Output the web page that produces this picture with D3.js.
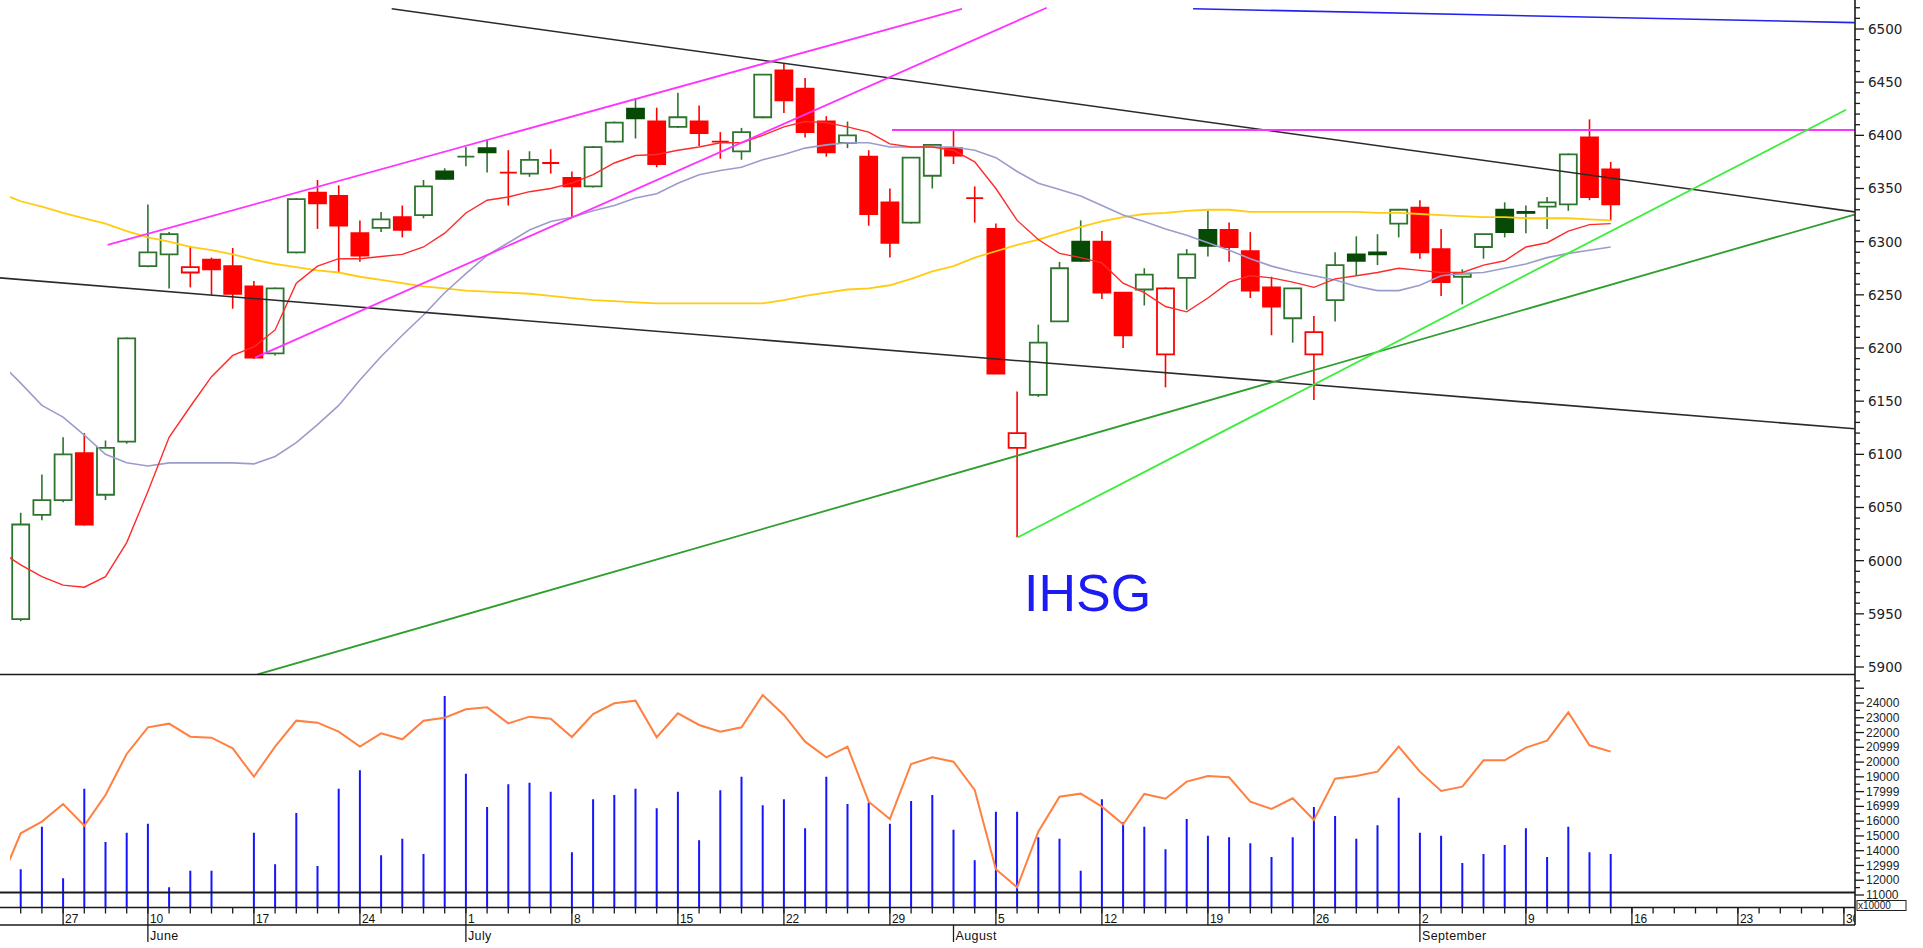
<!DOCTYPE html>
<html><head><meta charset="utf-8">
<script src="https://cdn.jsdelivr.net/npm/d3@7"></script>
<style>html,body{margin:0;padding:0;background:#fff;overflow:hidden}</style>
</head><body>
<svg id="c" width="1923" height="948"></svg>
<script>
// ---------------- DATA ----------------
// trading day index 0 = 23 May 2019 ... 75 = 13 Sep 2019 ; axis runs to 30 Sep (86)
const opens  = [5945,6043,6057,6101,6062,6112,6277,6288,6271,6283,6277,6258,6195,6290,6346,6343,6308,6313,6323,6325,6366,6380,6388,6365,6364,6374,6360,6352,6394,6425,6413,6408,6413,6394,6385,6417,6461,6444,6413,6393,6380,6337,6318,6362,6388,6341,6312,6106,6156,6225,6300,6300,6252,6255,6194,6266,6311,6311,6291,6257,6228,6194,6245,6288,6290,6317,6332,6293,6267,6295,6330,6328,6333,6335,6398,6368];
const highs  = [6045,6081,6116,6120,6113,6210,6335,6309,6296,6285,6294,6263,6257,6341,6358,6353,6320,6328,6334,6358,6369,6389,6396,6386,6385,6387,6366,6390,6413,6435,6426,6440,6428,6403,6407,6457,6468,6454,6418,6413,6386,6350,6379,6391,6405,6352,6317,6159,6222,6281,6320,6310,6252,6275,6257,6293,6329,6318,6309,6267,6256,6230,6290,6305,6307,6330,6339,6312,6274,6307,6337,6334,6342,6383,6415,6375];
const lows   = [5943,6038,6055,6033,6057,6110,6276,6256,6257,6250,6237,6190,6193,6289,6312,6271,6281,6309,6304,6322,6358,6371,6365,6334,6361,6364,6323,6351,6393,6397,6370,6407,6390,6378,6377,6416,6421,6398,6380,6388,6315,6285,6317,6350,6373,6318,6176,6022,6154,6225,6281,6246,6200,6240,6163,6236,6286,6281,6247,6212,6205,6151,6225,6268,6278,6304,6284,6249,6241,6284,6304,6308,6312,6329,6339,6320];
const closes = [6034,6057,6100,6034,6106,6209,6290,6307,6276,6274,6251,6191,6256,6340,6336,6315,6287,6321,6311,6352,6359,6380,6384,6365,6377,6374,6352,6389,6412,6416,6373,6417,6402,6394,6403,6457,6433,6403,6384,6400,6326,6299,6379,6391,6381,6341,6176,6120,6205,6275,6282,6252,6212,6269,6256,6288,6296,6295,6254,6239,6256,6215,6278,6282,6288,6330,6290,6262,6270,6307,6309,6327,6337,6382,6342,6335];
// volume (units of 1), day 10 not visible
const volume = [12741,15627,12130,18200,14590,15222,15830,11520,12650,12650,null,15220,13078,16553,12965,18200,19442,13687,14815,13777,24474,19216,16959,18494,18607,17998,13889,17478,17772,18200,16869,17998,14702,18088,19013,17072,17478,15515,19013,17162,17252,15830,17365,17772,15425,13349,16643,16643,14906,14815,12650,17478,15944,15627,14093,16147,15018,14906,14500,13574,14906,16959,16350,14815,15719,17591,15222,15018,13168,13777,14387,15515,13574,15627,13889,13777];
// lines below start at day -1 (partly off the left edge)
const volumeAvg = [11750,15177,15967,17162,15696,17772,20547,22352,22601,21720,21653,20931,19013,21044,22804,22669,22059,21044,21946,21540,22804,23007,23571,23707,22623,23075,22940,21698,23255,23977,24158,21680,23300,22511,22059,22352,24542,23188,21383,20322,21044,17320,16147,19870,20322,20029,18110,12741,11520,15290,17659,17862,16982,15786,17840,17523,18675,19058,18968,17320,16824,17545,16079,18878,19058,19352,21044,19352,18042,18336,20119,20119,20976,21450,23368,21134,20705];
const ma10 = [6009,5996,5985,5977,5975,5985,6017,6065,6116,6145,6173,6193,6201,6217,6261,6277,6284,6284,6286,6288,6295,6308,6327,6339,6342,6347,6350,6355,6363,6374,6381,6382,6386,6389,6393,6393,6400,6408,6413,6412,6408,6403,6392,6389,6389,6386,6375,6350,6320,6302,6289,6285,6280,6261,6252,6239,6234,6247,6262,6268,6266,6262,6257,6265,6268,6271,6275,6273,6271,6271,6278,6282,6295,6299,6310,6316,6317];
const ma20 = [6187,6167,6146,6135,6118,6100,6092,6089,6092,6092,6092,6092,6091,6098,6111,6128,6146,6170,6192,6212,6231,6252,6270,6287,6299,6311,6319,6323,6329,6334,6341,6345,6355,6363,6367,6370,6377,6382,6388,6391,6393,6393,6389,6389,6389,6389,6386,6379,6366,6355,6349,6343,6334,6325,6319,6312,6306,6299,6292,6284,6277,6272,6268,6264,6258,6254,6254,6259,6268,6270,6271,6275,6279,6285,6289,6292,6295];
const ma50 = [6346,6338,6333,6327,6322,6317,6310,6304,6300,6295,6292,6288,6283,6279,6276,6273,6271,6267,6264,6261,6258,6256,6254,6253,6252,6251,6249,6247,6245,6244,6243,6242,6242,6242,6242,6242,6242,6245,6249,6252,6255,6256,6259,6265,6272,6277,6285,6291,6297,6302,6308,6314,6319,6323,6326,6327,6329,6330,6330,6328,6328,6328,6328,6328,6328,6327,6327,6326,6325,6324,6323,6323,6322,6322,6322,6321,6320];
// drawn trend lines: [[dayIndex, price], [dayIndex, price]]
const trendBlackUpper = [[17.5,6519],[86.5,6328]];
const trendBlackLower = [[-1,6266],[86.5,6124]];
const trendMagentaUp  = [[4.1,6297],[44.4,6519]];
const trendMagentaLow = [[11.05,6191],[48.4,6520]];
const trendMagentaFlat= [[41.1,6405],[86.5,6405]];
const trendBlueTop    = [[55.3,6519],[86.5,6506]];
const trendGreenLong  = [[11.17,5893],[86.5,6325.5]];
const trendLime       = [[47.04,6022],[86.1,6424]];
// axis labels
const priceTicks = [5900,5950,6000,6050,6100,6150,6200,6250,6300,6350,6400,6450,6500];
const volTickValues = [24000,23000,22000,21000,20000,19000,18000,17000,16000,15000,14000,13000,12000,11000];
const volTickLabels = ["24000","23000","22000","20999","20000","19000","17999","16999","16000","15000","14000","12999","12000","11000"];
const dayLabels = [[2,"27"],[6,"10"],[11,"17"],[16,"24"],[21,"1"],[26,"8"],[31,"15"],[36,"22"],[41,"29"],[46,"5"],[51,"12"],[56,"19"],[61,"26"],[66,"2"],[71,"9"],[76,"16"],[81,"23"],[86,"30"]];
const monthLabels = [[6,"June"],[21,"July"],[44,"August"],[66,"September"]];
const lastAxisDay = 86;
const title = "IHSG";
const volUnit = "x10000";

// ---------------- LAYOUT ----------------
const svg = d3.select("#c");
const axisX = 1855, priceBottom = 674.5, volBottom = 892.5, dateTop = 907.5, dateMid = 925;
const x  = d3.scaleLinear().domain([0, 86]).range([20.7, 1843.9]);
const yP = d3.scaleLinear().domain([5900, 6500]).range([667, 29]);
const yV = d3.scaleLinear().domain([11000, 24000]).range([895, 703]);

svg.append("rect").attr("width",1923).attr("height",948).attr("fill","#fff");
const defs = svg.append("defs");
defs.append("clipPath").attr("id","cpP").append("rect").attr("x",10).attr("y",0).attr("width",axisX-10).attr("height",priceBottom);
defs.append("clipPath").attr("id","cpT").append("rect").attr("x",0).attr("y",0).attr("width",axisX).attr("height",priceBottom);
defs.append("clipPath").attr("id","cpV").append("rect").attr("x",10).attr("y",priceBottom).attr("width",axisX-10).attr("height",dateTop-priceBottom);
defs.append("clipPath").attr("id","cpD").append("rect").attr("x",0).attr("y",dateTop).attr("width",axisX).attr("height",948-dateTop);

// ---------------- VOLUME ----------------
const gV = svg.append("g").attr("clip-path","url(#cpV)");
gV.selectAll("line.vb").data(volume.map((v,i)=>({i,v})).filter(d=>d.v!==null))
  .join("line").attr("x1",d=>x(d.i)).attr("x2",d=>x(d.i)).attr("y1",d=>yV(d.v)).attr("y2",dateTop)
  .attr("stroke","#1414ff").attr("stroke-width",2);
gV.append("path").datum(volumeAvg.map((v,k)=>({i:k-1,v})))
  .attr("d", d3.line().x(d=>x(d.i)).y(d=>yV(d.v)))
  .attr("fill","none").attr("stroke","#ff8040").attr("stroke-width",2);

// ---------------- CANDLES ----------------
const gC = svg.append("g").attr("clip-path","url(#cpP)");
const cd = closes.map((c,i)=>({i,o:opens[i],h:highs[i],l:lows[i],c,prev: i>0?closes[i-1]:null}));
const upC = d=> d.prev===null || d.c>=d.prev;
const wickCol = d=> upC(d) ? "#2e742e" : "#ff0000";
gC.selectAll("line.wk").data(cd).join("line")
  .attr("x1",d=>x(d.i)).attr("x2",d=>x(d.i)).attr("y1",d=>yP(d.h)).attr("y2",d=>yP(d.l))
  .attr("stroke",wickCol).attr("stroke-width",1.6);
const hw = 8.5;
gC.selectAll("path.bd").data(cd).join("path")
  .attr("d",d=>{const t=yP(Math.max(d.o,d.c)), b=yP(Math.min(d.o,d.c)), xc=x(d.i);
     return `M${xc-hw},${t}H${xc+hw}V${b}H${xc-hw}Z`;})
  .attr("fill",d=> d.c<d.o ? (upC(d)?"#064a06":"#ff0000") : "#fff")
  .attr("stroke",d=> d.c<d.o ? (upC(d)?"#064a06":"#ff0000") : wickCol(d))
  .attr("stroke-width",1.8);

// ---------------- MOVING AVERAGES ----------------
const maLine = d3.line().x(d=>x(d.i)).y(d=>yP(d.v));
[[ma50,"#ffcc11",1.8],[ma20,"#9c9ccc",1.6],[ma10,"#ff2a2a",1.4]].forEach(([arr,col,w])=>{
  gC.append("path").datum(arr.map((v,k)=>({i:k-1,v}))).attr("d",maLine)
    .attr("fill","none").attr("stroke",col).attr("stroke-width",w);
});

// ---------------- TREND LINES ----------------
const gT = svg.append("g").attr("clip-path","url(#cpT)");
const tl = d3.line().x(d=>x(d[0])).y(d=>yP(d[1]));
[[trendBlackUpper,"#2a2a2a",1.6],[trendBlackLower,"#2a2a2a",1.6],[trendMagentaUp,"#ff33ff",1.8],
 [trendMagentaLow,"#ff33ff",1.8],[trendMagentaFlat,"#ff33ff",1.8],[trendBlueTop,"#2222ee",1.6],
 [trendGreenLong,"#2f9e2f",1.8],[trendLime,"#3cee3c",1.8]].forEach(([pts,col,w])=>{
  gT.append("path").datum(pts).attr("d",tl).attr("fill","none").attr("stroke",col).attr("stroke-width",w);
});

svg.append("text").attr("x",1024).attr("y",611).text(title)
  .attr("font-family","Liberation Sans, Arial, sans-serif").attr("font-size",52).attr("fill","#1c1cf2");

// ---------------- FRAME / AXES ----------------
const hl = (y,x1,x2,w,col)=>svg.append("line").attr("x1",x1).attr("x2",x2).attr("y1",y).attr("y2",y).attr("stroke",col||"#1a1a1a").attr("stroke-width",w);
hl(priceBottom,0,axisX,1.6);
hl(volBottom,0,axisX,2);
hl(dateTop,0,axisX,1.6);
hl(dateMid,0,axisX,1.4);
svg.append("line").attr("x1",axisX).attr("x2",axisX).attr("y1",0).attr("y2",dateMid).attr("stroke","#1a1a1a").attr("stroke-width",1.6);

// price axis ticks
const pt = d3.range(5900, 6530, 10);
svg.selectAll("line.pt").data(pt).join("line")
  .attr("x1",axisX).attr("x2",d=>axisX+(d%50===0?9:5)).attr("y1",d=>yP(d)).attr("y2",d=>yP(d))
  .attr("stroke","#1a1a1a").attr("stroke-width",1.3);
svg.selectAll("text.pl").data(priceTicks).join("text")
  .attr("x",1868).attr("y",d=>yP(d)).attr("dy","0.36em").text(d=>d)
  .attr("font-family","DejaVu Sans, sans-serif").attr("font-size",13.5).attr("fill","#222");

// volume axis ticks
const vt = d3.range(11000, 25600, 500);
svg.selectAll("line.vt").data(vt).join("line")
  .attr("x1",axisX).attr("x2",d=>axisX+(d%1000===0?9:5)).attr("y1",d=>yV(d)).attr("y2",d=>yV(d))
  .attr("stroke","#1a1a1a").attr("stroke-width",1.3);
svg.selectAll("text.vl").data(volTickValues).join("text")
  .attr("x",1866).attr("y",d=>yV(d)).attr("dy","0.34em").text((d,k)=>volTickLabels[k])
  .attr("font-family","Liberation Sans, Arial, sans-serif").attr("font-size",12).attr("fill","#222");
svg.append("rect").attr("x",1857).attr("y",900.5).attr("width",49).attr("height",10).attr("fill","#fff").attr("stroke","#222").attr("stroke-width",1);
svg.append("text").attr("x",1858).attr("y",909).text(volUnit)
  .attr("font-family","Liberation Sans, Arial, sans-serif").attr("font-size",10).attr("fill","#222");

// date axis
const gD = svg.append("g").attr("clip-path","url(#cpD)");
gD.selectAll("line.dt").data(d3.range(0, lastAxisDay+1)).join("line")
  .attr("x1",d=>x(d)).attr("x2",d=>x(d)).attr("y1",dateTop).attr("y2",dateTop+6)
  .attr("stroke","#1a1a1a").attr("stroke-width",1.3);
gD.selectAll("line.dl").data(dayLabels).join("line")
  .attr("x1",d=>x(d[0])).attr("x2",d=>x(d[0])).attr("y1",dateTop).attr("y2",dateMid)
  .attr("stroke","#1a1a1a").attr("stroke-width",1.3);
gD.selectAll("text.dl").data(dayLabels).join("text")
  .attr("x",d=>x(d[0])+2).attr("y",923).text(d=>d[1])
  .attr("font-family","Liberation Sans, Arial, sans-serif").attr("font-size",12).attr("fill","#111");
gD.selectAll("line.ml").data(monthLabels).join("line")
  .attr("x1",d=>x(d[0])).attr("x2",d=>x(d[0])).attr("y1",dateMid).attr("y2",942)
  .attr("stroke","#1a1a1a").attr("stroke-width",1.3);
gD.selectAll("text.ml").data(monthLabels).join("text")
  .attr("x",d=>x(d[0])+2).attr("y",940).text(d=>d[1])
  .attr("font-family","Liberation Sans, Arial, sans-serif").attr("font-size",12.5).attr("letter-spacing",0.4).attr("fill","#111");
</script>
</body></html>
